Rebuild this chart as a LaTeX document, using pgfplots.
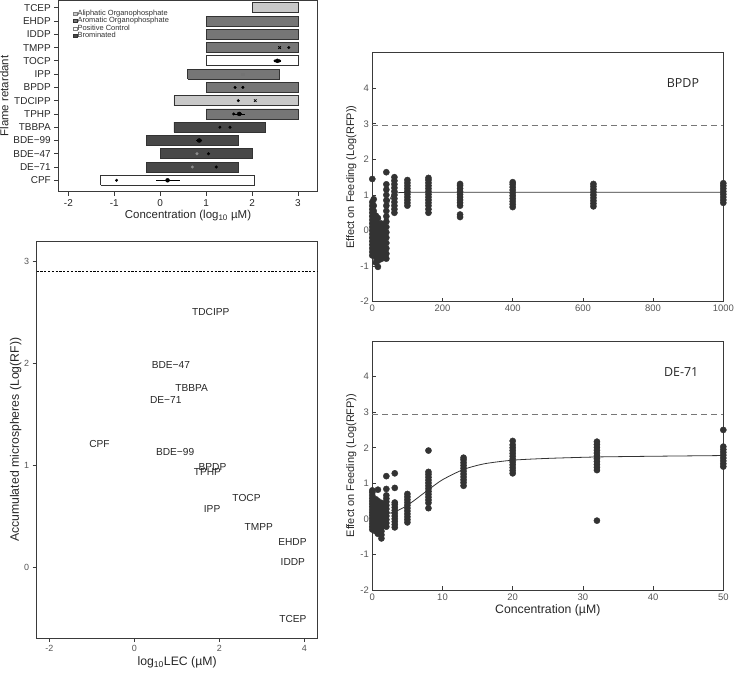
\documentclass[border=0pt]{standalone}
\usepackage{pgfplots}
\pgfplotsset{compat=1.18}
\usepackage{fontspec}
\setmainfont{Liberation Sans}
\newfontfamily\titlefont{Open Sans}
\definecolor{lightbar}{HTML}{C8C8C8}
\definecolor{medbar}{HTML}{767676}
\definecolor{darkbar}{HTML}{484848}
\definecolor{edgec}{HTML}{333333}
\definecolor{axc}{HTML}{3A3A3A}
\definecolor{dotc}{HTML}{333333}
\definecolor{tickc}{HTML}{555555}
\pgfplotsset{
  /pgf/number format/assume math mode=true,
  /pgf/number format/1000 sep={},
}
\begin{document}
\begin{tikzpicture}

% ---------------- Panel A ----------------
\begin{axis}[at={(58.3bp,482.3bp)}, anchor=south west, scale only axis,
  width=259.4bp, height=191.2bp,
  xmin=-2.22, xmax=3.43, ymin=0.14, ymax=14.55,
  xtick={-2,-1,0,1,2,3}, ytick={1,...,14},
  yticklabels={CPF,DE−71,BDE−47,BDE−99,TBBPA,TPHP,TDCIPP,BPDP,IPP,TOCP,TMPP,IDDP,EHDP,TCEP},
  tick pos=left, tick align=outside, major tick length=4bp,
  axis line style={draw=axc, line width=0.9pt},
  every tick/.style={axc, line width=0.8pt},
  ticklabel style={font=\fontsize{10}{12}\selectfont, text=black!85},
  xlabel={Concentration (log\textsubscript{10} µM)},
  ylabel={Flame retardant},
  label style={font=\fontsize{11.5}{13}\selectfont, text=black!85},
  xlabel style={yshift=3pt},
  ylabel style={yshift=-2pt},
  legend style={at={(0.045,0.965)}, anchor=north west, draw=none, fill=none,
    font=\fontsize{7.5}{7.5}\selectfont, text=black!80, row sep=-0.6pt,
    nodes={inner sep=0.6pt}},
  legend cell align=left,
  legend image code/.code={\draw[#1, line width=0.4pt] (0pt,-1.7pt) rectangle (3.4pt,1.7pt);},
]
\addlegendimage{fill=lightbar, draw=gray}
\addlegendentry{Aliphatic Organophosphate}
\addlegendimage{fill=medbar, draw=edgec}
\addlegendentry{Aromatic Organophosphate}
\addlegendimage{fill=white, draw=gray}
\addlegendentry{Positive Control}
\addlegendimage{fill=darkbar, draw=edgec}
\addlegendentry{Brominated}
% bars
\addplot[fill=lightbar, draw=edgec, line width=0.8pt, forget plot] coordinates {(2,13.625)(3,13.625)(3,14.375)(2,14.375)(2,13.625)};
\addplot[fill=medbar, draw=edgec, line width=0.8pt, forget plot] coordinates {(1,12.625)(3,12.625)(3,13.375)(1,13.375)(1,12.625)};
\addplot[fill=medbar, draw=edgec, line width=0.8pt, forget plot] coordinates {(1,11.625)(3,11.625)(3,12.375)(1,12.375)(1,11.625)};
\addplot[fill=medbar, draw=edgec, line width=0.8pt, forget plot] coordinates {(1,10.625)(3,10.625)(3,11.375)(1,11.375)(1,10.625)};
\addplot[fill=white, draw=edgec, line width=0.8pt, forget plot] coordinates {(1,9.625)(3,9.625)(3,10.375)(1,10.375)(1,9.625)};
\addplot[fill=medbar, draw=edgec, line width=0.8pt, forget plot] coordinates {(0.6,8.625)(2.6,8.625)(2.6,9.375)(0.6,9.375)(0.6,8.625)};
\addplot[fill=medbar, draw=edgec, line width=0.8pt, forget plot] coordinates {(1,7.625)(3,7.625)(3,8.375)(1,8.375)(1,7.625)};
\addplot[fill=lightbar, draw=edgec, line width=0.8pt, forget plot] coordinates {(0.3,6.625)(3,6.625)(3,7.375)(0.3,7.375)(0.3,6.625)};
\addplot[fill=medbar, draw=edgec, line width=0.8pt, forget plot] coordinates {(1,5.625)(3,5.625)(3,6.375)(1,6.375)(1,5.625)};
\addplot[fill=darkbar, draw=edgec, line width=0.8pt, forget plot] coordinates {(0.3,4.625)(2.3,4.625)(2.3,5.375)(0.3,5.375)(0.3,4.625)};
\addplot[fill=darkbar, draw=edgec, line width=0.8pt, forget plot] coordinates {(-0.3,3.625)(1.7,3.625)(1.7,4.375)(-0.3,4.375)(-0.3,3.625)};
\addplot[fill=darkbar, draw=edgec, line width=0.8pt, forget plot] coordinates {(0,2.625)(2,2.625)(2,3.375)(0,3.375)(0,2.625)};
\addplot[fill=darkbar, draw=edgec, line width=0.8pt, forget plot] coordinates {(-0.3,1.625)(1.7,1.625)(1.7,2.375)(-0.3,2.375)(-0.3,1.625)};
\addplot[fill=white, draw=edgec, line width=0.8pt, forget plot] coordinates {(-1.3,0.625)(2.05,0.625)(2.05,1.375)(-1.3,1.375)(-1.3,0.625)};
% error bars
\addplot[only marks, mark=none, forget plot, black,
  error bars/.cd, x dir=both, x explicit, error bar style={line width=0.7pt, black}, error mark=none]
  coordinates {(2.55,10) +- (0.08,0) (1.72,6) +- (0.12,0) (0.16,1) +- (0.26,0) (0.85,4) +- (0.06,0)};
% black dots
\addplot[only marks, mark=*, mark size=1.3, black, forget plot] coordinates {
 (2.8,11) (2.5,10) (2.6,10) (1.63,8) (1.8,8) (1.7,7) (1.6,6) (1.75,6)
 (1.3,5) (1.52,5) (0.82,4) (0.88,4) (1.05,3) (1.22,2) (-0.95,1) (0.16,1)};
% x marks
\addplot[only marks, mark=x, mark size=1.8, black, line width=0.8pt, forget plot] coordinates {(2.6,11) (2.07,7)};
% gray points
\addplot[only marks, mark=square*, mark size=1.3, black!55, forget plot] coordinates {(1.8,9)};
\addplot[only marks, mark=*, mark size=1.3, black!45, forget plot] coordinates {(0.8,3) (0.7,2)};
\end{axis}

% ---------------- Panel C ----------------
\begin{axis}[at={(36.7bp,36bp)}, anchor=south west, scale only axis,
  width=280.8bp, height=396.3bp,
  xmin=-2.296, xmax=4.31, ymin=-0.689, ymax=3.196,
  xtick={-2,0,2,4}, ytick={0,1,2,3},
  tick pos=left, tick align=outside, major tick length=4bp,
  axis line style={draw=axc, line width=0.9pt},
  every tick/.style={axc, line width=0.8pt},
  ticklabel style={font=\fontsize{9}{10}\selectfont, text=tickc},
  xlabel={log\textsubscript{10}LEC (µM)},
  ylabel={Accumulated microspheres (Log(RF))},
  label style={font=\fontsize{12.3}{14}\selectfont, text=black!85},
  xlabel style={yshift=2pt},
  ylabel style={yshift=-4pt},
]
\addplot[black, line width=0.8pt, dash pattern=on 2.2pt off 1.6pt] coordinates {(-2.296,2.9) (4.31,2.9)};
\addplot[only marks, mark=none, nodes near coords, point meta=explicit symbolic,
  every node near coord/.append style={anchor=center, font=\fontsize{10.2}{12}\selectfont, text=black!85, inner sep=0pt}]
  table[meta=label, row sep=\\] {
  x y label\\
  1.80 2.51 TDCIPP\\
  0.86 1.99 BDE−47\\
  1.35 1.765 TBBPA\\
  0.74 1.647 DE−71\\
  -0.82 1.21 CPF\\
  0.96 1.134 BDE−99\\
  1.84 0.984 BPDP\\
  1.72 0.941 TPHP\\
  2.64 0.686 TOCP\\
  1.83 0.575 IPP\\
  2.93 0.396 TMPP\\
  3.72 0.249 EHDP\\
  3.73 0.056 IDDP\\
  3.73 -0.503 TCEP\\
};
\end{axis}

% ---------------- Panel B ----------------
\begin{axis}[at={(372.3bp,372.3bp)}, anchor=south west, scale only axis,
  width=351bp, height=249bp,
  xmin=0, xmax=1000, ymin=-2, ymax=5,
  xtick={0,200,...,1000}, ytick={-2,...,4},
  tick pos=left, tick align=inside, major tick length=4bp,
  axis line style={draw=axc, line width=0.9pt},
  every tick/.style={axc, line width=0.8pt},
  ticklabel style={font=\fontsize{9.5}{10}\selectfont, text=tickc},
  ylabel={Effect on Feeding (Log(RFP))},
  label style={font=\fontsize{11}{13}\selectfont, text=black!85},
  ylabel style={yshift=-3pt},
  clip=false,
]
\addplot[tickc!80, line width=0.8pt, dash pattern=on 6pt off 4pt] coordinates {(0,2.95) (1000,2.95)};
\addplot[only marks, mark=*, mark size=3.1, dotc, mark options={fill=dotc, draw=dotc}] coordinates {
(0,-0.7)(0,-0.6)(0,-0.5)(0,-0.4)(0,-0.3)(0,-0.2)(0,-0.1)(0,0)(0,0.1)(0,0.2)(0,0.3)(0,0.4)(0,0.5)(0,0.6)(0,0.7)(0,0.8)(0,1.45)
(4,-0.65)(4,-0.5)(4,-0.35)(4,-0.2)(4,-0.05)(4,0.1)(4,0.25)(4,0.4)(4,0.55)(4,0.7)(4,0.88)
(10,-0.9)(10,-0.75)(10,-0.6)(10,-0.45)(10,-0.3)(10,-0.15)(10,0)(10,0.15)(10,0.3)(10,0.42)
(16,-1.02)(16,-0.85)(16,-0.7)(16,-0.55)(16,-0.4)(16,-0.25)(16,-0.1)(16,0.05)(16,0.2)(16,0.35)
(25,-0.8)(25,-0.65)(25,-0.5)(25,-0.35)(25,-0.2)(25,-0.05)(25,0.1)(25,0.2)
(32,-0.75)(32,-0.6)(32,-0.45)(32,-0.3)(32,-0.15)(32,0)(32,0.15)
(40,-0.79)(40,-0.65)(40,-0.5)(40,-0.35)(40,-0.2)(40,-0.05)(40,0.1)(40,0.25)(40,0.4)(40,0.55)(40,0.7)(40,0.85)(40,1.0)(40,1.15)(40,1.3)(40,1.64)
(63,0.5)(63,0.6)(63,0.7)(63,0.8)(63,0.9)(63,1.0)(63,1.1)(63,1.2)(63,1.3)(63,1.4)(63,1.5)
(100,0.7)(100,0.78)(100,0.86)(100,0.94)(100,1.02)(100,1.1)(100,1.18)(100,1.26)(100,1.34)(100,1.42)
(160,0.5)(160,0.6)(160,0.7)(160,0.78)(160,0.86)(160,0.94)(160,1.02)(160,1.1)(160,1.18)(160,1.26)(160,1.34)(160,1.42)(160,1.48)
(250,0.38)(250,0.45)(250,0.7)(250,0.78)(250,0.86)(250,0.94)(250,1.02)(250,1.1)(250,1.18)(250,1.26)(250,1.31)
(400,0.66)(400,0.74)(400,0.82)(400,0.9)(400,0.98)(400,1.06)(400,1.14)(400,1.22)(400,1.3)(400,1.36)
(630,0.68)(630,0.76)(630,0.84)(630,0.92)(630,1.0)(630,1.08)(630,1.16)(630,1.24)(630,1.31)
(1000,0.78)(1000,0.86)(1000,0.94)(1000,1.02)(1000,1.1)(1000,1.18)(1000,1.26)(1000,1.33)
};
\addplot[dotc, line width=0.8pt] coordinates {
(0,-0.1)(10,-0.1)(20,-0.05)(30,0.12)(40,0.5)(50,0.88)(57,1.0)(63,1.05)(80,1.07)(100,1.075)(1000,1.075)};
\node[font=\titlefont\fontsize{12.5}{14}\selectfont, text=black!85] at (axis cs:885,4.16) {BPDP};
\end{axis}

% ---------------- Panel D ----------------
\begin{axis}[at={(372.3bp,84bp)}, anchor=south west, scale only axis,
  width=351bp, height=249bp,
  xmin=0, xmax=50, ymin=-2, ymax=5,
  xtick={0,10,...,50}, ytick={-2,...,4},
  tick pos=left, tick align=inside, major tick length=4bp,
  axis line style={draw=axc, line width=0.9pt},
  every tick/.style={axc, line width=0.8pt},
  ticklabel style={font=\fontsize{9.5}{10}\selectfont, text=tickc},
  xlabel={Concentration (µM)},
  ylabel={Effect on Feeding (Log(RFP))},
  label style={font=\fontsize{11}{13}\selectfont, text=black!85},
  xlabel style={font=\fontsize{12.3}{14}\selectfont, yshift=2pt},
  ylabel style={yshift=-3pt},
  clip=false,
]
\addplot[tickc!80, line width=0.8pt, dash pattern=on 6pt off 4pt] coordinates {(0,2.95) (50,2.95)};
\addplot[only marks, mark=*, mark size=3.1, dotc, mark options={fill=dotc, draw=dotc}] coordinates {
(0,-0.3)(0,-0.22)(0,-0.14)(0,-0.06)(0,0.02)(0,0.1)(0,0.18)(0,0.26)(0,0.34)(0,0.42)(0,0.5)(0,0.58)(0,0.66)(0,0.74)(0,0.8)
(0.5,-0.35)(0.5,-0.25)(0.5,-0.15)(0.5,-0.05)(0.5,0.05)(0.5,0.15)(0.5,0.25)(0.5,0.35)(0.5,0.45)(0.5,0.55)
(0.8,-0.42)(0.8,-0.32)(0.8,-0.22)(0.8,-0.12)(0.8,-0.02)(0.8,0.08)(0.8,0.18)(0.8,0.28)(0.8,0.38)(0.8,0.5)(0.8,0.82)
(1.3,-0.55)(1.3,-0.45)(1.3,-0.35)(1.3,-0.25)(1.3,-0.15)(1.3,-0.05)(1.3,0.05)(1.3,0.15)(1.3,0.25)(1.3,0.35)(1.3,0.45)
(2,-0.22)(2,-0.12)(2,-0.02)(2,0.08)(2,0.18)(2,0.28)(2,0.38)(2,0.48)(2,0.57)(2,0.66)(2,0.84)(2,1.2)
(3.2,-0.24)(3.2,-0.16)(3.2,-0.08)(3.2,0)(3.2,0.08)(3.2,0.16)(3.2,0.24)(3.2,0.32)(3.2,0.4)(3.2,0.46)(3.2,0.87)(3.2,1.28)
(5,-0.1)(5,-0.02)(5,0.06)(5,0.14)(5,0.22)(5,0.3)(5,0.38)(5,0.46)(5,0.54)(5,0.62)(5,0.7)
(8,0.3)(8,0.45)(8,0.53)(8,0.61)(8,0.69)(8,0.77)(8,0.85)(8,0.93)(8,1.01)(8,1.09)(8,1.17)(8,1.25)(8,1.32)(8,1.92)
(13,0.93)(13,1.02)(13,1.1)(13,1.18)(13,1.26)(13,1.34)(13,1.42)(13,1.5)(13,1.58)(13,1.66)(13,1.72)
(20,1.28)(20,1.36)(20,1.44)(20,1.52)(20,1.6)(20,1.68)(20,1.76)(20,1.84)(20,1.92)(20,2.0)(20,2.08)(20,2.19)
(32,-0.05)(32,1.37)(32,1.45)(32,1.53)(32,1.61)(32,1.69)(32,1.77)(32,1.85)(32,1.93)(32,2.01)(32,2.09)(32,2.17)
(50,1.47)(50,1.55)(50,1.63)(50,1.71)(50,1.79)(50,1.87)(50,1.95)(50,2.03)(50,2.5)
};
\addplot[dotc, line width=0.8pt, smooth, tension=0.4] coordinates {
(0,0.1)(1,0.11)(2,0.14)(3.2,0.2)(5,0.38)(8,0.82)(10,1.1)(13,1.39)(16,1.55)(20,1.65)(25,1.7)(32,1.74)(40,1.76)(50,1.78)};
\node[font=\titlefont\fontsize{12.5}{14}\selectfont, text=black!85] at (axis cs:44,4.14) {DE-71};
\end{axis}

\pgfresetboundingbox
\path[use as bounding box] (0bp,0bp) rectangle (734bp,674bp);
\end{tikzpicture}
\end{document}
